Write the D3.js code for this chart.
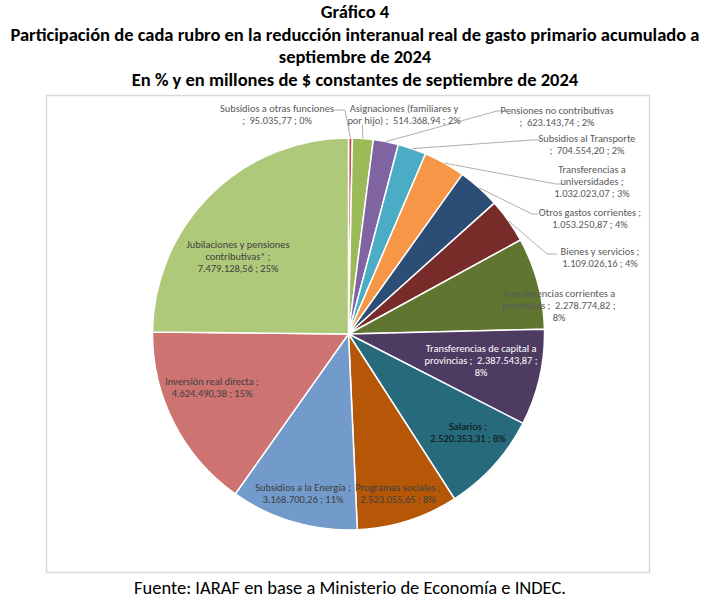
<!DOCTYPE html>
<html>
<head>
<meta charset="utf-8">
<script src="https://cdn.jsdelivr.net/npm/d3@7"></script>
<style>
    body { margin: 0; background: #fff; }
    svg { display: block; font-family: Carlito, Calibri, Lato, sans-serif; }
</style>
</head>
<body>
<div id="chart"></div>
<script>
// data, clockwise from 12 o'clock
const categories = [
    'Subsidios a otras funciones',
    'Asignaciones (familiares y por hijo)',
    'Pensiones no contributivas',
    'Subsidios al Transporte',
    'Transferencias a universidades',
    'Otros gastos corrientes',
    'Bienes y servicios',
    'Transferencias corrientes a provincias',
    'Transferencias de capital a provincias',
    'Salarios',
    'Programas sociales',
    'Subsidios a la Energía',
    'Inversión real directa',
    'Jubilaciones y pensiones contributivas*',
]
const values = [
    95035.77, 514368.94, 623143.74, 704554.20, 1032023.07, 1053250.87, 1109026.16,
    2278774.82, 2387543.87, 2520353.31, 2523055.65, 3168700.26, 4624490.38, 7479128.56,
]
const percentLabels = ['0%', '2%', '2%', '2%', '3%', '4%', '4%', '8%', '8%', '8%', '8%', '11%', '15%', '25%']
const colors = [
    '#C0504D', '#9BBB59', '#8064A2', '#4BACC6', '#F79646', '#2C4D75', '#772C2A',
    '#5F7530', '#4D3B62', '#276A7C', '#B65708', '#729ACA', '#CD7371', '#AFC97A',
]

const titleLines = [
    'Gráfico 4',
    'Participación de cada rubro en la reducción interanual real de gasto primario acumulado a',
    'septiembre de 2024',
    'En % y en millones de $ constantes de septiembre de 2024',
]
const source = 'Fuente: IARAF en base a Ministerio de Economía e INDEC.'

// label placement, as Excel laid it out ({v} value, {p} percent)
const grey = '#595959'
const dark = '#404040'
const labelLayout = [
    { x: 277, y: 108, fill: grey, lines: ['Subsidios a otras funciones', ';  {v} ; {p}'], knee: [[334, 110], [345, 110]] },
    { x: 404, y: 108, fill: grey, lines: ['Asignaciones (familiares y', 'por hijo) ;  {v} ; {p}'], knee: [[362.4, 125]] },
    { x: 557, y: 110, fill: grey, lines: ['Pensiones no contributivas', ';  {v} ; {p}'], knee: [[506, 111], [497, 111]] },
    { x: 587, y: 138, fill: grey, lines: ['Subsidios al Transporte', ';  {v} ; {p}'], knee: [[540, 140], [532, 140]] },
    { x: 592, y: 169, fill: grey, lines: ['Transferencias a', 'universidades ;', '{v} ; {p}'], knee: [[562, 184], [556, 184]] },
    { x: 590, y: 212, fill: grey, lines: ['Otros gastos corrientes ;', '{v} ; {p}'], knee: [[538, 214], [532, 214]] },
    { x: 600, y: 251, fill: grey, lines: ['Bienes y servicios ;', '{v} ; {p}'], knee: [[557, 254], [547, 254]] },
    { x: 559, y: 293, fill: grey, lines: ['Transferencias corrientes a', 'provincias ;  {v} ;', '{p}'] },
    { x: 481, y: 348, fill: '#ffffff', lines: ['Transferencias de capital a', 'provincias ;  {v} ;', '{p}'] },
    { x: 468, y: 426, fill: '#0d0d0d', lines: ['Salarios ;', '{v} ; {p}'] },
    { x: 398, y: 487, fill: dark, lines: ['Programas sociales ;', '{v} ; {p}'] },
    { x: 303, y: 487, fill: dark, lines: ['Subsidios a la Energía ;', '{v} ; {p}'] },
    { x: 212, y: 381, fill: dark, lines: ['Inversión real directa ;', '{v} ; {p}'] },
    { x: 238, y: 244, fill: dark, lines: ['Jubilaciones y pensiones', 'contributivas* ;', '{v} ; {p}'] },
]

const width = 711
const height = 603
const cx = 348.5
const cy = 334
const radius = 196
const lineHeight = 12

const es = d3.formatLocale({ decimal: ',', thousands: '.', grouping: [3], currency: ['$', ''] })
const fmt = es.format(',.2f')

const rows = categories.map((name, i) => ({
    name,
    value: values[i],
    pct: percentLabels[i],
    color: colors[i],
    layout: labelLayout[i],
}))

const svg = d3.select('#chart').append('svg')
    .attr('width', width)
    .attr('height', height)

// titles
svg.append('g')
    .selectAll('text')
    .data(titleLines)
    .enter().append('text')
        .attr('x', 355)
        .attr('y', (d, i) => [18, 41, 63, 86][i])
        .attr('text-anchor', 'middle')
        .style('font-weight', 'bold')
        .style('font-size', '18.5px')
        .style('fill', '#000')
        .text(d => d)

// chart frame
svg.append('rect')
    .attr('x', 46.5)
    .attr('y', 95.5)
    .attr('width', 603)
    .attr('height', 477)
    .style('fill', 'none')
    .style('stroke', '#d9d9d9')
    .style('stroke-width', '1.5px')

const pie = d3.pie()
    .sort(null)
    .value(d => d.value)

const arc = d3.arc()
    .innerRadius(0)
    .outerRadius(radius)

const rim = d3.arc()
    .innerRadius(radius)
    .outerRadius(radius)

const arcs = pie(rows)

const g = svg.append('g')
    .attr('transform', 'translate(' + cx + ',' + cy + ')')

g.selectAll('path.slice')
    .data(arcs)
    .enter().append('path')
        .attr('class', 'slice')
        .attr('d', arc)
        .style('fill', d => d.data.color)
        .style('stroke', '#fff')
        .style('stroke-width', '1.5px')

// leader lines for the labels outside the pie
const leader = d3.line()

svg.selectAll('path.leader')
    .data(arcs.filter(d => d.data.layout.knee))
    .enter().append('path')
        .attr('class', 'leader')
        .attr('d', d => {
            const [px, py] = rim.centroid(d)
            return leader(d.data.layout.knee.concat([[cx + px, cy + py]]))
        })
        .style('fill', 'none')
        .style('stroke', '#a6a6a6')
        .style('stroke-width', '0.9px')

const labels = svg.selectAll('text.label')
    .data(arcs)
    .enter().append('text')
        .attr('class', 'label')
        .attr('text-anchor', 'middle')
        .style('font-size', '10.4px')
        .style('white-space', 'pre')
        .style('fill', d => d.data.layout.fill)

labels.selectAll('tspan')
    .data(d => d.data.layout.lines.map(l => ({
        text: l.replace('{v}', fmt(d.data.value)).replace('{p}', d.data.pct),
        x: d.data.layout.x,
        y: d.data.layout.y,
    })))
    .enter().append('tspan')
        .attr('x', d => d.x)
        .attr('y', (d, i) => d.y + i * lineHeight + 3.5)
        .text(d => d.text)

svg.append('text')
    .attr('x', 350)
    .attr('y', 594)
    .attr('text-anchor', 'middle')
    .style('font-size', '18.5px')
    .style('fill', '#000')
    .text(source)
</script>
</body>
</html>
